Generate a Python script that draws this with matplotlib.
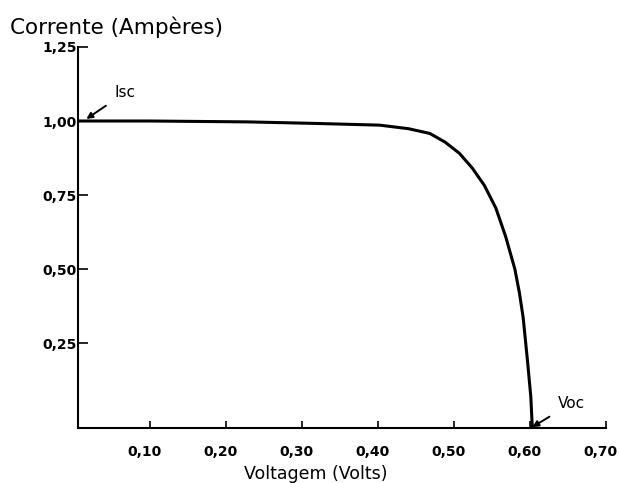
import numpy as np
import matplotlib
matplotlib.use('Agg')
import matplotlib.pyplot as plt
import matplotlib.transforms as mtransforms

# curva I-V
voltagem = [0.005, 0.10, 0.228, 0.315, 0.402, 0.440, 0.468, 0.488, 0.507, 0.524,
            0.540, 0.555, 0.568, 0.580, 0.586, 0.591, 0.597, 0.601, 0.603]
corrente = [1.000, 1.000, 0.997, 0.992, 0.986, 0.974, 0.958, 0.929, 0.891, 0.841,
            0.782, 0.706, 0.609, 0.500, 0.420, 0.335, 0.181, 0.069, -0.035]

x_ticks = [0.10, 0.20, 0.30, 0.40, 0.50, 0.60, 0.70]
x_labels = ['0,10', '0,20', '0,30', '0,40', '0,50', '0,60', '0,70']
y_ticks = [0.25, 0.50, 0.75, 1.00, 1.25]
y_labels = ['0,25', '0,50', '0,75', '1,00', '1,25']

tick_font = 10
label_font = 12.5

f = plt.figure(figsize=(6.19, 4.83), dpi=100)
ax = f.add_axes([0.126, 0.1139, 0.979 - 0.126, 0.9027 - 0.1139])

ax.plot(voltagem, corrente, color='black', lw=2.2, solid_capstyle='round',
        solid_joinstyle='round')

ax.set_xlim(0.005, 0.70)
ax.set_ylim(-0.037, 1.25)
ax.set_xticks(x_ticks)
ax.set_xticklabels(x_labels, fontdict={'fontsize': tick_font, 'fontweight': 'bold'})
ax.set_yticks(y_ticks)
ax.set_yticklabels(y_labels, fontdict={'fontsize': tick_font, 'fontweight': 'bold'})
ax.tick_params(axis='x', direction='in', length=5, width=1.2, pad=12)
ax.tick_params(axis='y', direction='in', length=7, width=1.2, pad=1)

# rotulos do eixo x ficam um pouco a esquerda dos tracos
shift = mtransforms.ScaledTranslation(-6 / 100, 0, f.dpi_scale_trans)
for lab in ax.get_xticklabels():
    lab.set_transform(lab.get_transform() + shift)

ax.spines['right'].set_visible(False)
ax.spines['top'].set_visible(False)
ax.spines['left'].set_linewidth(1.5)
ax.spines['bottom'].set_linewidth(1.5)

ax.set_xlabel('Voltagem (Volts)', fontsize=label_font, family='DejaVu Sans')
ax.xaxis.label.set_va('center')
ax.xaxis.set_label_coords((316 - 78) / 528, -(474 - 428) / 381)

f.text(10 / 619, 1 - 27 / 483, 'Corrente (Ampères)', fontsize=15.5,
       family='DejaVu Sans', va='center', ha='left')

# Isc / Voc
ax.annotate('Isc', xy=(0.016, 1.007), xytext=(0.053, 1.095), fontsize=11,
            family='DejaVu Sans', va='center', ha='left',
            arrowprops=dict(arrowstyle='-|>', color='black', lw=1.4,
                            mutation_scale=9, shrinkA=5, shrinkB=0))
ax.annotate('Voc', xy=(0.603, -0.034), xytext=(0.637, 0.047), fontsize=11,
            family='DejaVu Sans', va='center', ha='left',
            arrowprops=dict(arrowstyle='-|>', color='black', lw=1.4,
                            mutation_scale=9, shrinkA=5, shrinkB=0))

f.savefig('out.png', dpi=100)
